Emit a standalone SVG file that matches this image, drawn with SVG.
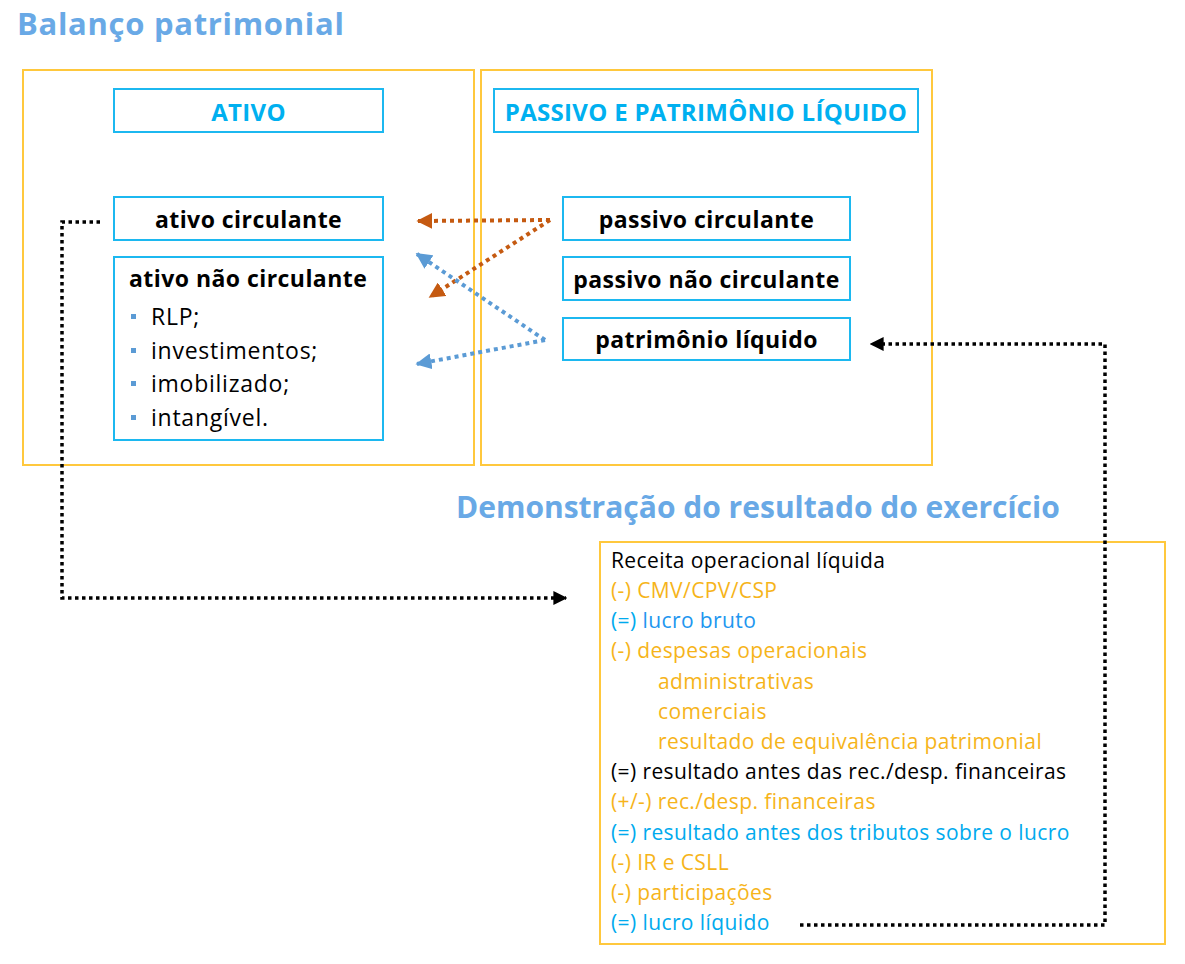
<svg xmlns="http://www.w3.org/2000/svg" width="1185" height="964" viewBox="0 0 1185 964">
<defs>
<style>
text{font-family:"Open Sans","Noto Sans","Liberation Sans",sans-serif}
.title{font-size:31px;font-weight:bold;fill:#69a9e6}
.t1{letter-spacing:0.7px}
.frame{fill:none;stroke:#ffc83d;stroke-width:2}
.box{fill:#fff;stroke:#1cb8f0;stroke-width:2}
.hdr{font-size:24px;font-weight:bold;fill:#00b0f0;letter-spacing:0.3px}
.lbl{font-size:23px;font-weight:bold;fill:#000;letter-spacing:0.45px}
.item{font-size:23px;fill:#000;letter-spacing:0.75px}
.dre{font-size:21px;letter-spacing:0.4px}
.k{fill:#000}.o{fill:#f6b41a}.b{fill:#00aaee}.bb{fill:#2196ef}
.bul{fill:#5b9bd5}
.org{fill:none;stroke:#c55a11;stroke-width:4;stroke-dasharray:4 4}
.blu{fill:none;stroke:#5b9bd5;stroke-width:4;stroke-dasharray:4 4}
.blk{fill:none;stroke:#000;stroke-width:3.5;stroke-dasharray:3.5 3.5}
</style>
<marker id="mo" viewBox="0 0 10 10" refX="9" refY="5" markerWidth="4" markerHeight="4" markerUnits="strokeWidth" orient="auto"><path d="M0,0L10,5L0,10z" fill="#c55a11"/></marker>
<marker id="mb" viewBox="0 0 10 10" refX="9" refY="5" markerWidth="4" markerHeight="4" markerUnits="strokeWidth" orient="auto"><path d="M0,0L10,5L0,10z" fill="#5b9bd5"/></marker>
<marker id="mk" viewBox="0 0 10 10" refX="9" refY="5" markerWidth="4" markerHeight="4" markerUnits="strokeWidth" orient="auto"><path d="M0,0L10,5L0,10z" fill="#000"/></marker>
</defs>
<rect width="1185" height="964" fill="#fff"/>
<text class="title t1" x="17" y="35">Balanço patrimonial</text>
<rect class="frame" x="23" y="70" width="451" height="395"/>
<rect class="frame" x="481" y="70" width="451" height="395"/>
<g id="ativo"><rect class="box" x="114" y="89" width="269" height="43"/><text class="hdr" x="248.5" y="121" text-anchor="middle">ATIVO</text></g>
<g id="passivo-pl"><rect class="box" x="494" y="89" width="424" height="43"/><text class="hdr" x="706" y="121" text-anchor="middle">PASSIVO E PATRIMÔNIO LÍQUIDO</text></g>
<g id="ativo-circulante"><rect class="box" x="114" y="197" width="269" height="43"/><text class="lbl" x="248.5" y="228" text-anchor="middle">ativo circulante</text></g>
<g id="ativo-nao-circulante"><rect class="box" x="114" y="257" width="269" height="183"/>
<text class="lbl" x="129" y="287">ativo não circulante</text>
<rect class="bul" x="131" y="314" width="5" height="5"/><text class="item" x="151" y="325">RLP;</text>
<rect class="bul" x="131" y="348" width="5" height="5"/><text class="item" x="151" y="359">investimentos;</text>
<rect class="bul" x="131" y="381" width="5" height="5"/><text class="item" x="151" y="392">imobilizado;</text>
<rect class="bul" x="131" y="415" width="5" height="5"/><text class="item" x="151" y="426">intangível.</text>
</g>
<g id="passivo-circulante"><rect class="box" x="563" y="197" width="287" height="43"/><text class="lbl" x="706.5" y="228" text-anchor="middle">passivo circulante</text></g>
<g id="passivo-nao-circulante"><rect class="box" x="563" y="257" width="287" height="43"/><text class="lbl" x="706.5" y="288" text-anchor="middle">passivo não circulante</text></g>
<g id="patrimonio-liquido"><rect class="box" x="563" y="318" width="287" height="42"/><text class="lbl" x="706.5" y="348" text-anchor="middle">patrimônio líquido</text></g>
<text class="title" x="456" y="518" style="font-size:30px">Demonstração do resultado do exercício</text>
<g id="dre">
<rect class="frame" x="600" y="542" width="565" height="402"/>
<g class="dre">
<text class="k" x="611" y="568">Receita operacional líquida</text>
<text class="o" x="611" y="598">(-) CMV/CPV/CSP</text>
<text x="611" y="628"><tspan class="b">(=)</tspan><tspan class="bb"> lucro bruto</tspan></text>
<text class="o" x="611" y="658">(-) despesas operacionais</text>
<text class="o" x="658" y="689">administrativas</text>
<text class="o" x="658" y="719">comerciais</text>
<text class="o" x="658" y="749">resultado de equivalência patrimonial</text>
<text class="k" x="611" y="779">(=) resultado antes das rec./desp. financeiras</text>
<text class="o" x="611" y="809">(+/-) rec./desp. financeiras</text>
<text class="b" x="611" y="840">(=) resultado antes dos tributos sobre o lucro</text>
<text class="o" x="611" y="870">(-) IR e CSLL</text>
<text class="o" x="611" y="900">(-) participações</text>
<text class="b" x="611" y="930">(=) lucro líquido</text>
</g>
</g>
<g id="connectors">
<path class="org" d="M550,220 L418,221" marker-end="url(#mo)"/>
<path class="org" d="M550,220 L430,297" marker-end="url(#mo)"/>
<path class="blu" d="M545,340 L417,254" marker-end="url(#mb)"/>
<path class="blu" d="M545,340 L417,364" marker-end="url(#mb)"/>
<path class="blk" d="M100,222 L62,222 L62,598 L566,598" marker-end="url(#mk)"/>
<path class="blk" d="M800,925 L1105,925 L1105,344 L871,344" marker-end="url(#mk)"/>
</g>
</svg>
